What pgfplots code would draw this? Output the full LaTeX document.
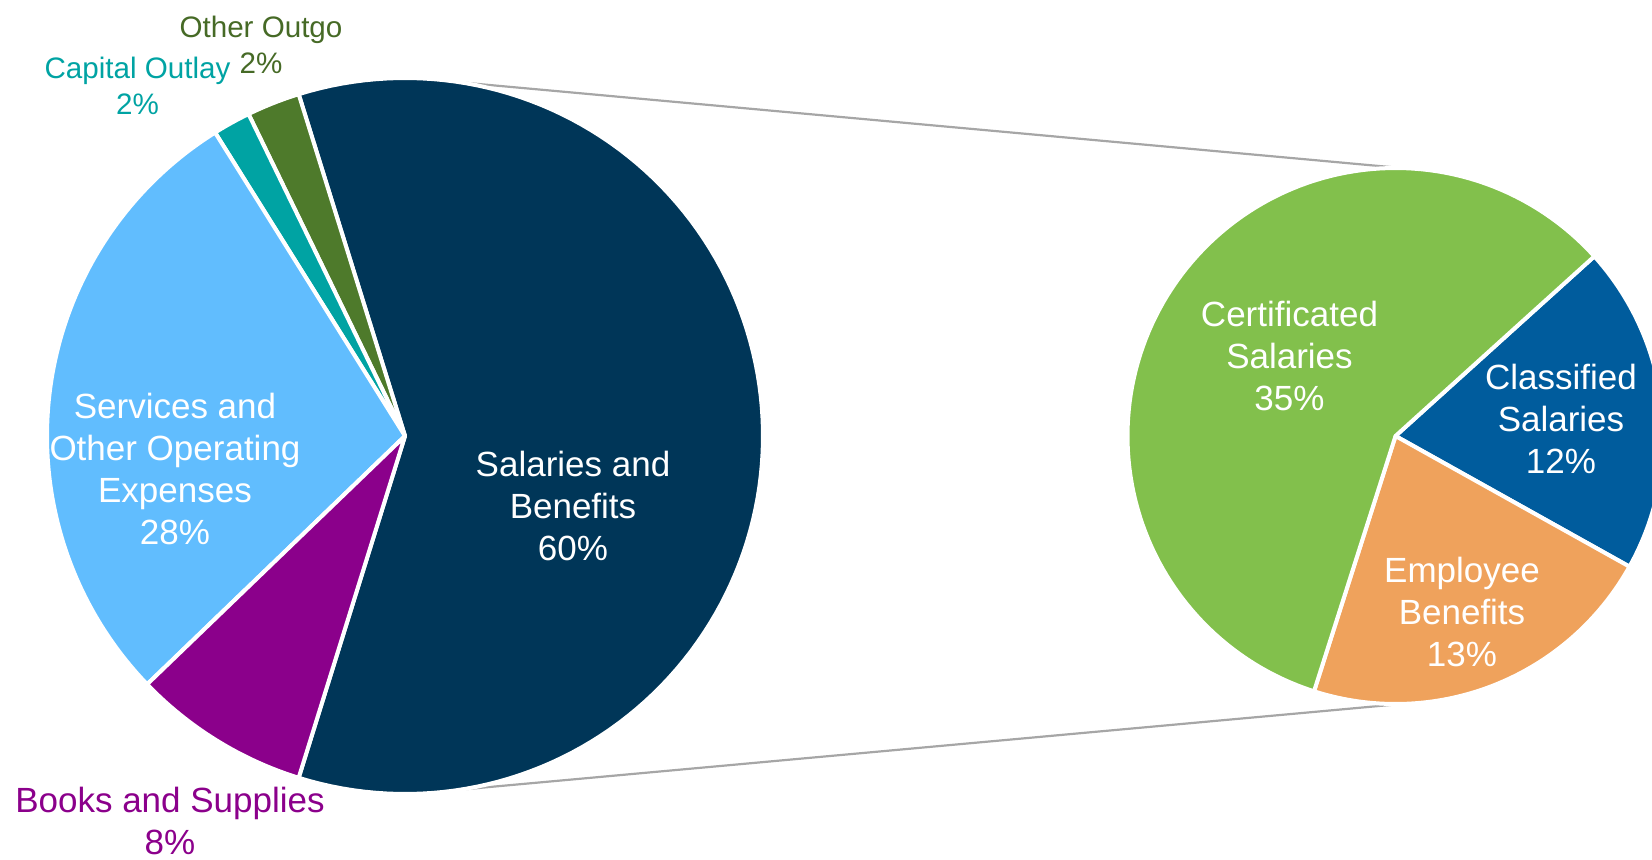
\documentclass[border=0pt]{standalone}
\usepackage{pgfplots}
\usepackage{pgfplotstable}
\pgfplotsset{compat=1.18}
\usepackage{fontspec}
\setmainfont{Liberation Sans}

\definecolor{cSal}{HTML}{003658}
\definecolor{cSer}{HTML}{61BDFE}
\definecolor{cBoo}{HTML}{8B008B}
\definecolor{cCap}{HTML}{00A3A3}
\definecolor{cOth}{HTML}{4E7A2B}
\definecolor{cOthT}{HTML}{466A26}
\definecolor{cCer}{HTML}{82C04C}
\definecolor{cCla}{HTML}{005C9D}
\definecolor{cBen}{HTML}{EFA25C}
\definecolor{cLine}{HTML}{A6A6A6}

% left pie (all expenditures), percent
\pgfplotstableread{
part value
Salaries 59.6
OtherOutgo 2.4
CapitalOutlay 1.7
Services 28.3
Books 8.0
}\leftdata
% right pie (split of salaries and benefits), percent of total
\pgfplotstableread{
part value
Classified 11.8
Benefits 13.0
Certificated 34.8
}\rightdata

\pgfplotstablegetelem{0}{value}\of\leftdata\let\vSal\pgfplotsretval
\pgfplotstablegetelem{1}{value}\of\leftdata\let\vOth\pgfplotsretval
\pgfplotstablegetelem{2}{value}\of\leftdata\let\vCap\pgfplotsretval
\pgfplotstablegetelem{3}{value}\of\leftdata\let\vSer\pgfplotsretval
\pgfplotstablegetelem{4}{value}\of\leftdata\let\vBoo\pgfplotsretval
\pgfplotstablegetelem{0}{value}\of\rightdata\let\vCla\pgfplotsretval
\pgfplotstablegetelem{1}{value}\of\rightdata\let\vBen\pgfplotsretval
\pgfplotstablegetelem{2}{value}\of\rightdata\let\vCer\pgfplotsretval

\pgfmathsetmacro\aA{-1.8*\vSal}
\pgfmathsetmacro\aB{1.8*\vSal}
\pgfmathsetmacro\aC{\aB+3.6*\vOth}
\pgfmathsetmacro\aD{\aC+3.6*\vCap}
\pgfmathsetmacro\aE{\aD+3.6*\vSer}
\pgfmathsetmacro\aF{\aE+3.6*\vBoo}
\pgfmathsetmacro\rTot{\vCla+\vBen+\vCer}
\pgfmathsetmacro\bA{42.1}
\pgfmathsetmacro\bB{\bA-360*\vCla/\rTot}
\pgfmathsetmacro\bC{\bB-360*\vBen/\rTot}
\pgfmathsetmacro\bD{\bC-360*\vCer/\rTot}

\newcommand{\pieslice}[6]{%
  \addplot[fill=#6, draw=white, line width=1pt, line join=round, mark=none,
    domain=#4:#5, samples=120, variable=\t]
    ({#1+#3*cos(\t)},{#2+#3*sin(\t)}) -- (#1,#2) -- cycle;}

\begin{document}
\begin{tikzpicture}
\begin{axis}[at={(0,0)}, anchor=south west, scale only axis,
  width=413pt, height=214.75pt,
  xmin=0, xmax=1652, ymin=0, ymax=859, hide axis, clip=true]
  % connector lines
  \addplot[cLine, line width=0.55pt, mark=none] coordinates {(461,776.6) (1395.5,691.5)};
  \addplot[cLine, line width=0.55pt, mark=none] coordinates {(461,69.4) (1395.5,154.5)};
  % left pie
  \pieslice{405}{423}{358}{\aA}{\aB}{cSal}
  \pieslice{405}{423}{358}{\aB}{\aC}{cOth}
  \pieslice{405}{423}{358}{\aC}{\aD}{cCap}
  \pieslice{405}{423}{358}{\aD}{\aE}{cSer}
  \pieslice{405}{423}{358}{\aE}{\aF}{cBoo}
  % right pie
  \pieslice{1395.5}{423}{268}{\bB}{\bA}{cCla}
  \pieslice{1395.5}{423}{268}{\bC}{\bB}{cBen}
  \pieslice{1395.5}{423}{268}{\bD}{\bC}{cCer}
  % labels
  \tikzset{lab/.style={align=center, inner sep=0pt, font=\fontsize{8.75pt}{10.5pt}\selectfont},
           labs/.style={align=center, inner sep=0pt, font=\fontsize{7.4pt}{9pt}\selectfont}}
  \node[lab, text=white] at (axis cs:573,353.3) {Salaries and\\Benefits\\60\%};
  \node[lab, text=white] at (axis cs:175,390) {Services and\\Other Operating\\Expenses\\28\%};
  \node[lab, text=cBoo] at (axis cs:170,38) {Books and Supplies\\8\%};
  \node[labs, text=cCap] at (axis cs:137.5,773.5) {Capital Outlay\\2\%};
  \node[labs, text=cOthT] at (axis cs:261,814) {Other Outgo\\2\%};
  \node[lab, text=white] at (axis cs:1289.5,503) {Certificated\\Salaries\\35\%};
  \node[lab, text=white] at (axis cs:1561,440) {Classified\\Salaries\\12\%};
  \node[lab, text=white] at (axis cs:1462,247) {Employee\\Benefits\\13\%};
\end{axis}
\pgfresetboundingbox
\useasboundingbox (0,0) rectangle (413pt,214.75pt);
\end{tikzpicture}
\end{document}
